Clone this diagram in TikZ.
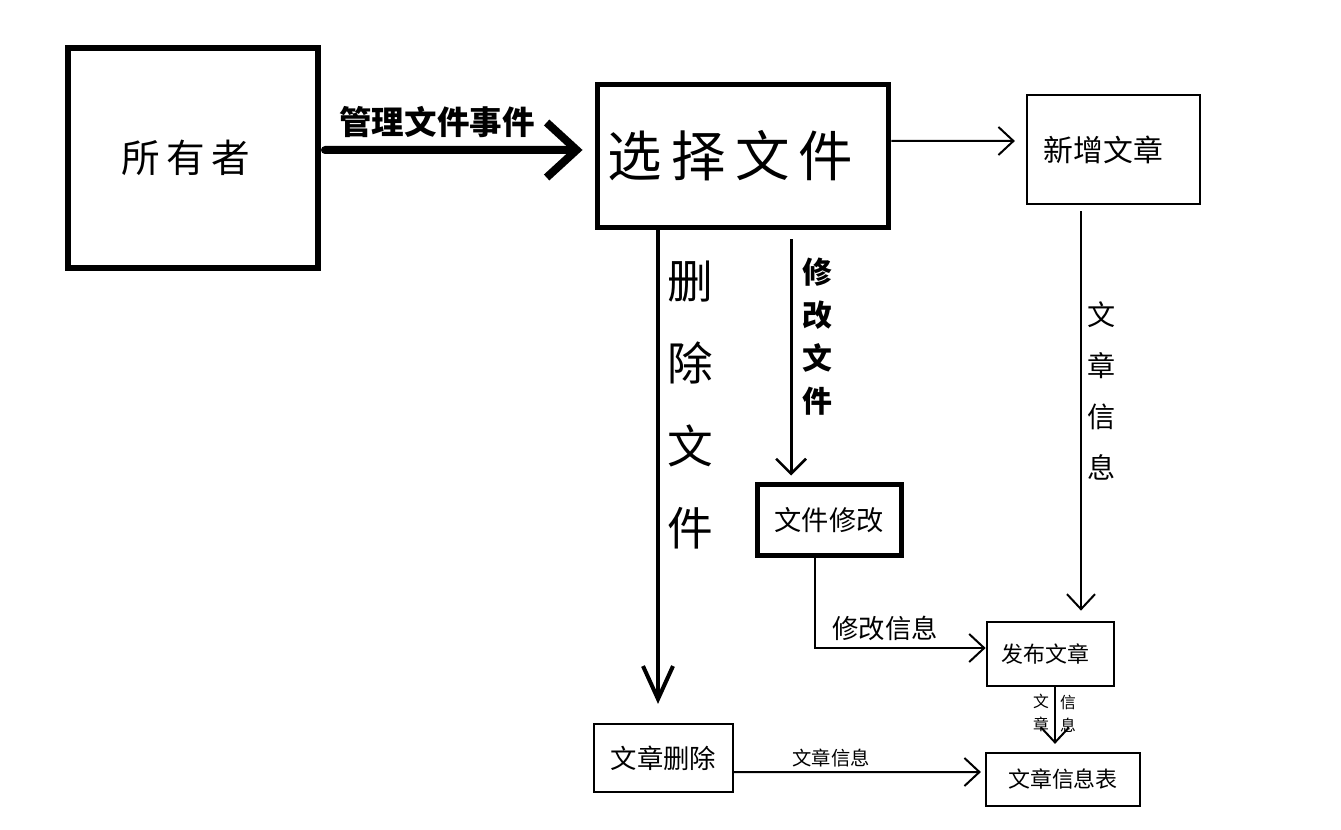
\documentclass[tikz,border=0pt]{standalone}
\usepackage{fontspec}
\newfontfamily\cjk{Noto Sans CJK SC}
\usetikzlibrary{arrows.meta}

\begin{document}
\begin{tikzpicture}[x=0.02cm, y=-0.02cm,
    box/.style={draw, line width=0.045cm, inner sep=0pt, font=\cjk},
    thinarrow/.style={line width=0.04cm, -{Straight Barb[length=0.3cm, width=0.56cm, line width=0.04cm]}},
    lbl/.style={font=\cjk, inner sep=0pt},
    vlbl/.style={font=\cjk, inner sep=0pt, align=center}]
    \useasboundingbox (0,0) rectangle (1341,830);

    % Boxes
    \node[box, line width=0.12cm, minimum width=5cm, minimum height=4.4cm, font=\cjk\fontsize{22}{26}\selectfont] (owner) at (193,158) {所\,有\,者\hspace*{0.3cm}};
    \node[box, line width=0.1cm, minimum width=5.84cm, minimum height=2.88cm, font=\cjk\fontsize{31}{36}\selectfont] (select) at (743,156) {选\,择\,文\,件\hspace*{0.5cm}};
    \node[box, minimum width=3.46cm, minimum height=2.18cm, font=\cjk\fontsize{17}{20}\selectfont] (newart) at (1113.5,149.5) {新增文章\hspace*{0.4cm}};
    \node[box, line width=0.1cm, minimum width=2.88cm, minimum height=1.44cm, font=\cjk\fontsize{15.5}{18}\selectfont] (modbox) at (829,520) {文件修改};
    \node[box, line width=0.055cm, minimum width=2.54cm, minimum height=1.28cm, font=\cjk\fontsize{12.5}{14}\selectfont] (pubbox) at (1050.5,654) {发布文章\hspace*{0.2cm}};
    \node[box, minimum width=2.78cm, minimum height=1.36cm, font=\cjk\fontsize{15}{18}\selectfont] (delbox) at (663.5,758) {文章删除};
    \node[box, minimum width=3.08cm, minimum height=1.06cm, font=\cjk\fontsize{12.5}{15}\selectfont] (infotab) at (1063,779.5) {文章信息表};

    % Arrows
    \draw[line width=0.16cm, line cap=round, shorten <=0.08cm, shorten >=0.24cm,
        -{Straight Barb[length=0.6cm, width=1.1cm, line width=0.16cm]}]
        ([yshift=0.16cm]owner.east) -- ([yshift=0.12cm]select.west);
    \draw[thinarrow, shorten >=0.22cm] ([yshift=0.3cm]select.east) -- ([yshift=0.17cm]newart.west);
    \coordinate (delx) at (658,0);
    \draw[line width=0.08cm, shorten >=0.38cm,
        -{Straight Barb[length=0.66cm, width=0.6cm, line width=0.08cm]}]
        (select.south -| delx) -- (delbox.north -| delx);
    \coordinate (modx) at (791,0);
    \draw[line width=0.06cm, shorten <=0.18cm, shorten >=0.12cm,
        -{Straight Barb[length=0.3cm, width=0.6cm, line width=0.05cm]}]
        (select.south -| modx) -- (modbox.north -| modx);
    \coordinate (newx) at (1081,0);
    \draw[thinarrow, shorten <=0.12cm, shorten >=0.2cm] (newart.south -| newx) -- (pubbox.north -| newx);
    \draw[thinarrow] ([xshift=-0.28cm]modbox.south) |- ([yshift=0.12cm]pubbox.west);
    \draw[thinarrow, shorten >=0.16cm] ([xshift=0.09cm]pubbox.south) -- ([xshift=0.09cm]pubbox.south |- infotab.north);
    \draw[thinarrow, shorten >=0.08cm] ([yshift=-0.28cm]delbox.east) -- ([yshift=0.15cm]infotab.west);

    % Labels
    \node[lbl, font=\cjk\bfseries\fontsize{18.5}{22}\selectfont] (lmanage) at (437,122) {管理文件事件};
    \node[vlbl, font=\cjk\fontsize{26}{47}\selectfont] (ldel) at (690,405) {删\\除\\文\\件};
    \node[vlbl, font=\cjk\bfseries\fontsize{17}{24.5}\selectfont] (lmod) at (817,337) {修\\改\\文\\件};
    \node[vlbl, font=\cjk\fontsize{16}{29}\selectfont] (lnew) at (1102,391) {文\\章\\信\\息};
    \node[lbl, font=\cjk\fontsize{15}{18}\selectfont] (lmodinfo) at (885,628) {修改信息};
    \node[vlbl, font=\cjk\fontsize{9}{13}\selectfont] (lpubl) at (1041,713) {文\\章};
    \node[vlbl, font=\cjk\fontsize{9}{13}\selectfont] (lpubr) at (1068,714) {信\\息};
    \node[lbl, font=\cjk\fontsize{11}{13}\selectfont] (ldelinfo) at (831,758) {文章信息};
\end{tikzpicture}
\end{document}
